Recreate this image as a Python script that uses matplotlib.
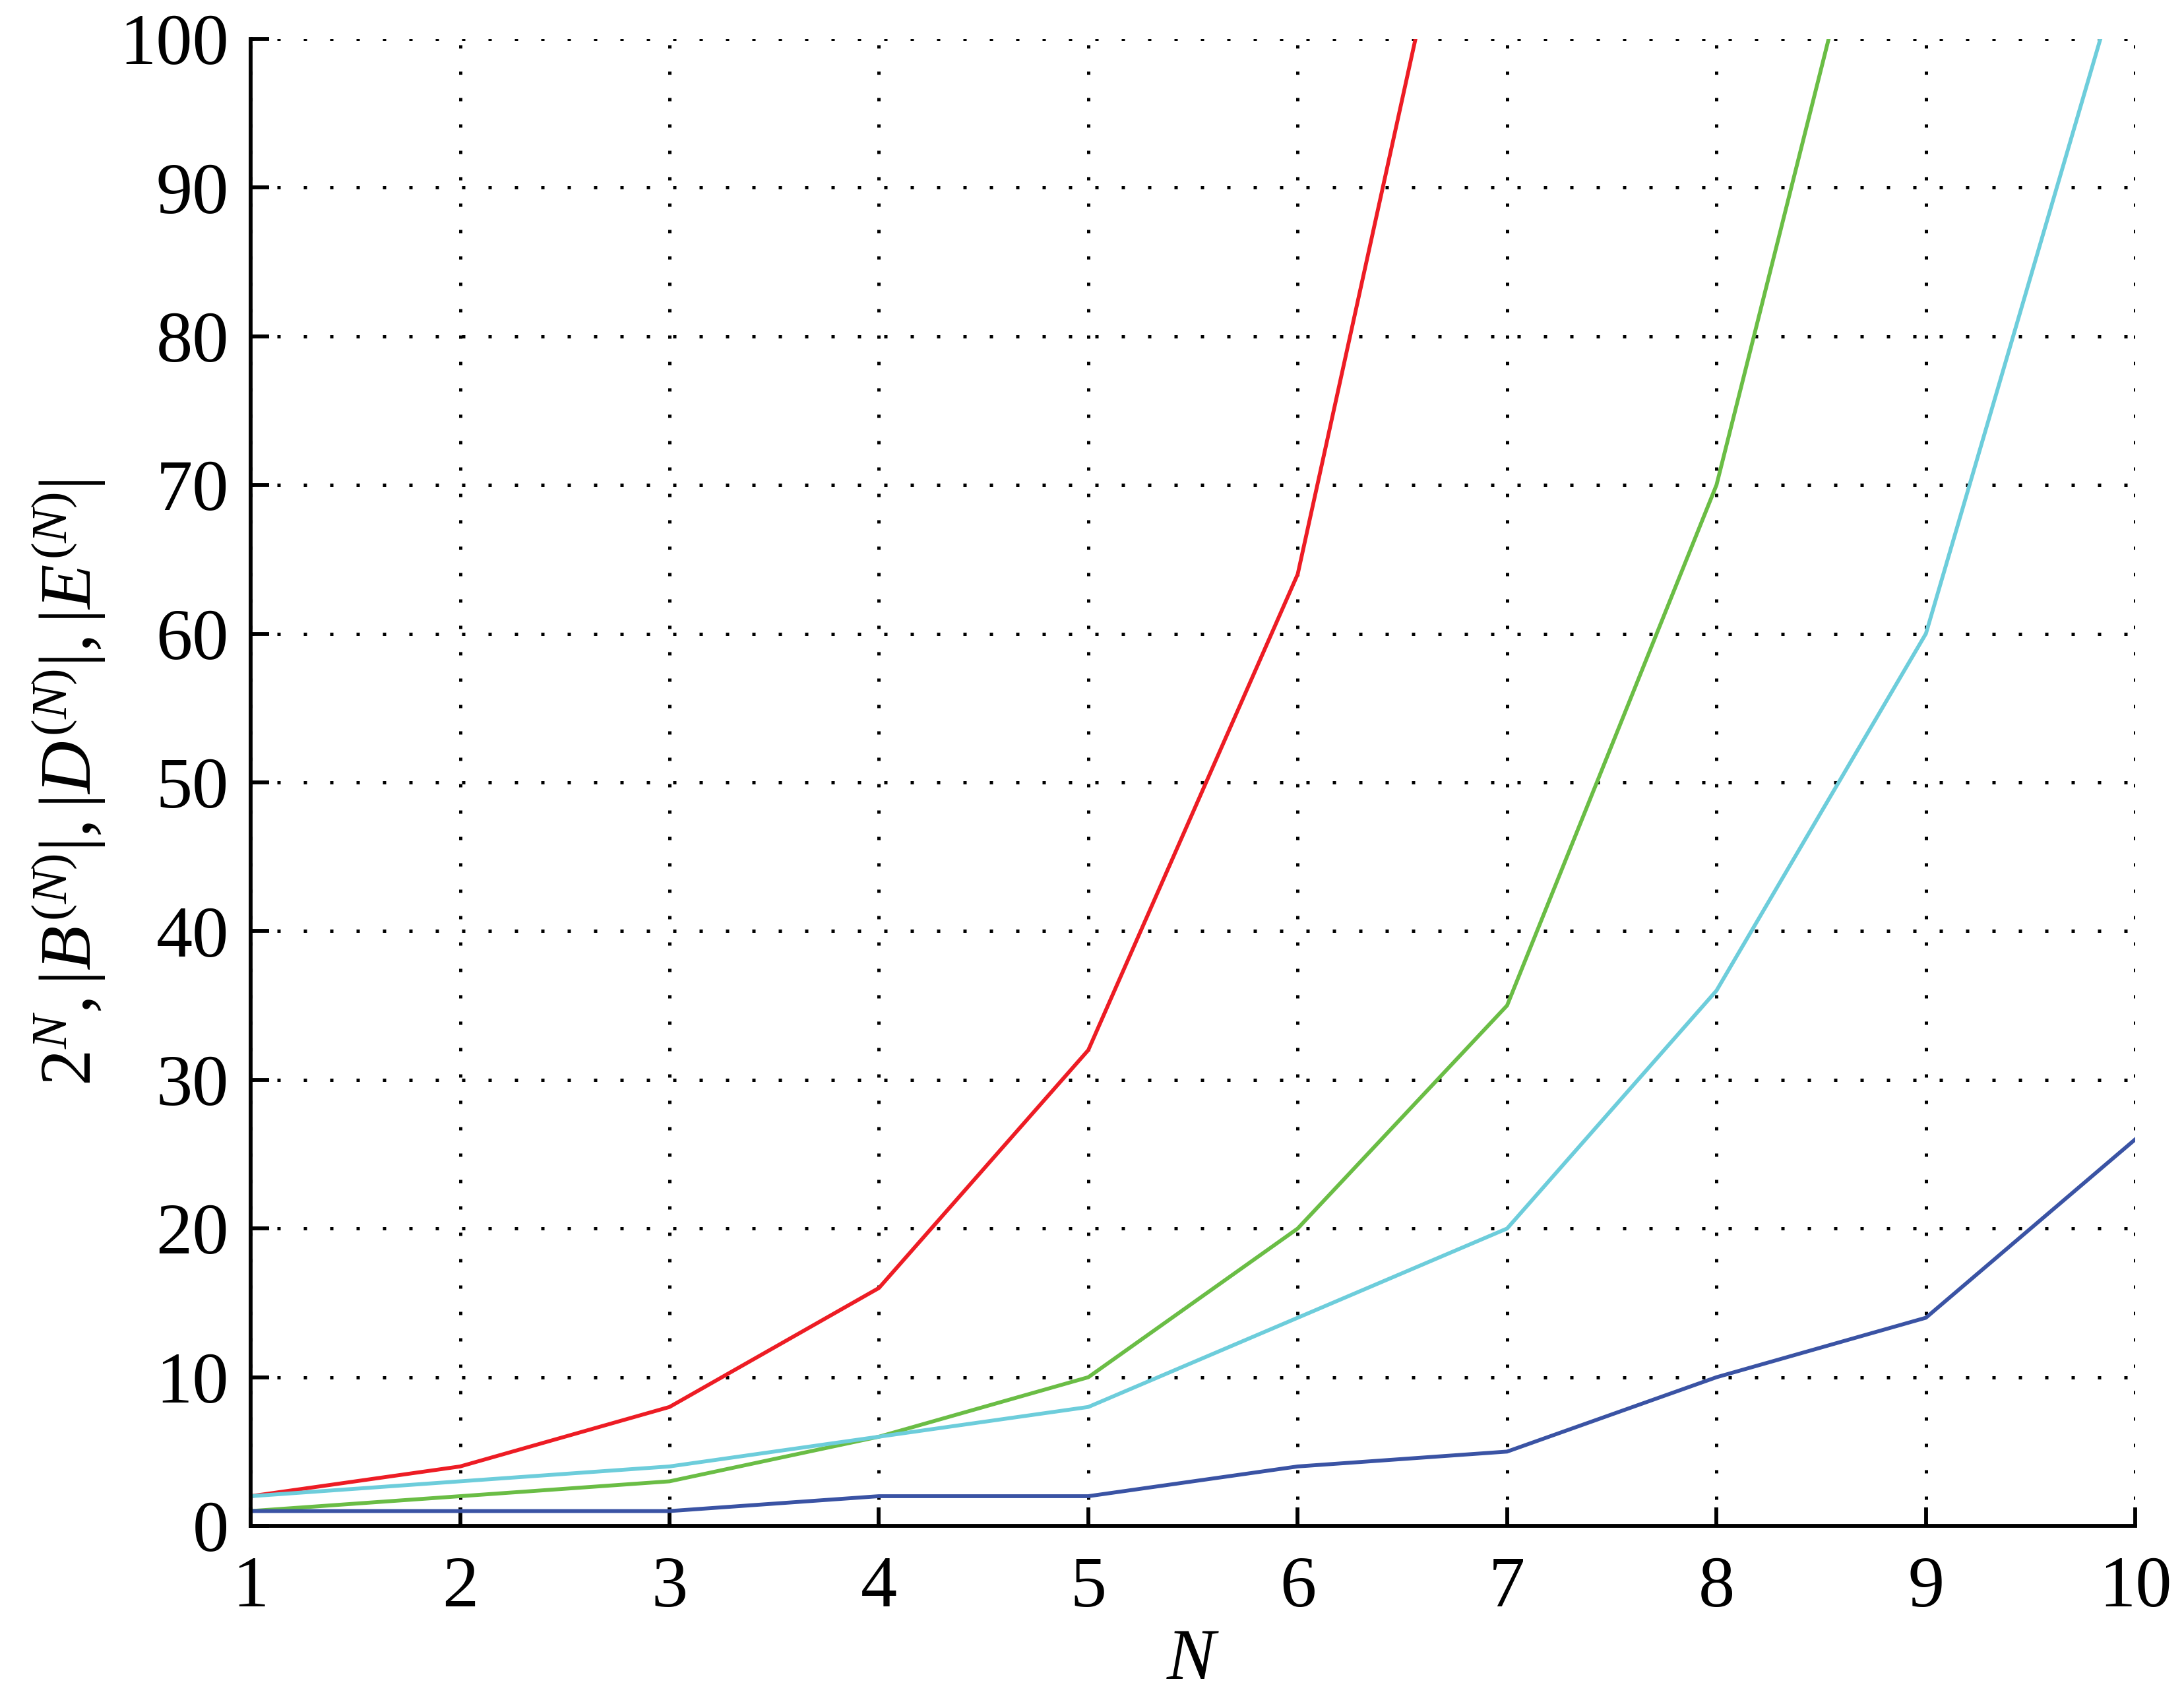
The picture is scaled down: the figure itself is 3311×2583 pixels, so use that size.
import numpy as np
from matplotlib import pyplot as plt

plt.rcParams["font.family"] = ["Liberation Serif", "DejaVu Serif"]
plt.rcParams["mathtext.fontset"] = "custom"
plt.rcParams["mathtext.rm"] = "Liberation Serif"
plt.rcParams["mathtext.it"] = "Liberation Serif:italic"
plt.rcParams["mathtext.bf"] = "Liberation Serif:bold"

n = [1, 2, 3, 4, 5, 6, 7, 8, 9, 10]
pow2 = [2, 4, 8, 16, 32, 64, 128, 256, 512, 1024]
b_size = [1, 2, 3, 6, 10, 20, 35, 70, 126, 252]
d_size = [2, 3, 4, 6, 8, 14, 20, 36, 60, 108]
e_size = [1, 1, 1, 2, 2, 4, 5, 10, 14, 26]

x_ticks = list(range(1, 11))
y_ticks = list(range(0, 101, 10))

fig = plt.figure(figsize=(3311 / 300, 2583 / 300), dpi=300)
ax = fig.add_axes([0.1148, 0.1045, 0.8629, 0.8727])

ax.plot(n, pow2, color="#ED1C24", linewidth=1.4)
ax.plot(n, b_size, color="#6ABD45", linewidth=1.4)
ax.plot(n, d_size, color="#6DCDDB", linewidth=1.4)
ax.plot(n, e_size, color="#3A53A4", linewidth=1.4)

ax.set_xlim(1, 10)
ax.set_ylim(0, 100)
ax.set_xticks(x_ticks)
ax.set_yticks(y_ticks)

ax.grid(True, color="k", linestyle=(0, (1, 7)), linewidth=1.2)
ax.set_axisbelow(True)

for side in ["top", "right"]:
    ax.spines[side].set_visible(False)
for side in ["left", "bottom"]:
    ax.spines[side].set_linewidth(1.4)

ax.tick_params(axis="both", direction="in", length=6.7, width=1.4,
               labelsize=26.5, top=False, right=False)
ax.tick_params(axis="x", pad=11)
ax.tick_params(axis="y", pad=8)

ax.set_xlabel(r"$N$", fontsize=26.5)
ax.xaxis.set_label_coords(0.5, -0.069)
ax.set_ylabel(r"$2^N, |B^{(N)}|, |D^{(N)}|, |E^{(N)}|$", fontsize=26.5)
ax.yaxis.set_label_coords(-0.076, 0.5)

fig.savefig("out.png", dpi=300)
